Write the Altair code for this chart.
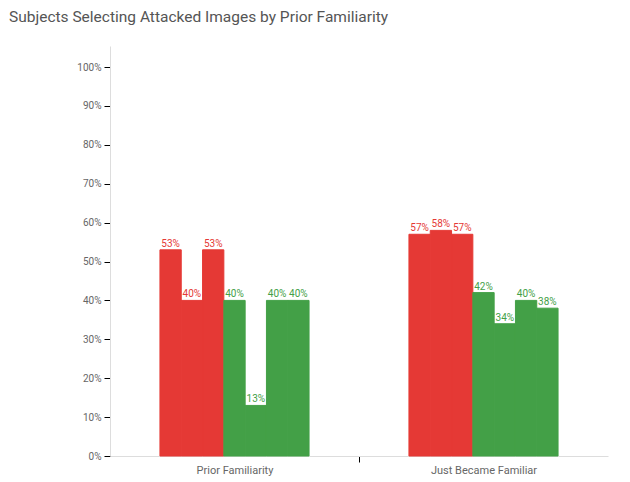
import altair as alt
import pandas as pd

categories = ["Prior Familiarity", "Just Became Familiar"]
series = ["Attacked (red)", "Attacked (green)"]
colors = ["#e53935", "#43a047"]

prior_red = [0.53, 0.40, 0.53]
prior_green = [0.40, 0.13, 0.40, 0.40]
just_red = [0.57, 0.58, 0.57]
just_green = [0.42, 0.34, 0.40, 0.38]

rows = []
for cat, reds, greens in [(categories[0], prior_red, prior_green),
                          (categories[1], just_red, just_green)]:
    slot = 0
    for v in reds:
        rows.append({"category": cat, "series": series[0], "slot": slot, "value": v})
        slot += 1
    for v in greens:
        rows.append({"category": cat, "series": series[1], "slot": slot, "value": v})
        slot += 1
df = pd.DataFrame(rows)

# offset slots, with two empty slots on each side of each group
slot_domain = list(range(-2, 9))

FONT = "Roboto"

x = alt.X(
    "category:N",
    sort=categories,
    title=None,
    scale=alt.Scale(paddingInner=0, paddingOuter=0),
    axis=alt.Axis(
        tickOffset=-124.5,
        labelOffset=124.5,
        labelAngle=0,
        labelFontSize=11,
        labelColor="#666666",
        labelFont=FONT,
        labelPadding=2,
        tickSize=6,
        tickColor=alt.condition("datum.value === 'Prior Familiarity'", alt.value("transparent"), alt.value("#000000")),
        domainColor="#dddddd",
        grid=False,
    ),
)
xo = alt.XOffset("slot:O", scale=alt.Scale(domain=slot_domain, paddingInner=0, paddingOuter=0.345))
y = alt.Y(
    "value:Q",
    title=None,
    scale=alt.Scale(domain=[0, 1.054], nice=False),
    axis=alt.Axis(
        values=[i / 10 for i in range(11)],
        format=".0%",
        labelFontSize=10,
        labelColor="#666666",
        labelFont=FONT,
        labelPadding=3,
        tickSize=6,
        tickColor="#000000",
        domainColor="#dddddd",
        grid=False,
    ),
)
color = alt.Color("series:N", scale=alt.Scale(domain=series, range=colors), legend=None)
stroke = alt.Stroke("series:N", scale=alt.Scale(domain=series, range=colors), legend=None)

bars = alt.Chart(df).mark_bar(strokeWidth=1).encode(x=x, xOffset=xo, y=y, color=color, stroke=stroke)
labels = alt.Chart(df).mark_text(baseline="bottom", dy=-1, fontSize=10, font=FONT).encode(
    x=x, xOffset=xo, y=y, color=color, text=alt.Text("value:Q", format=".0%")
)

chart = alt.layer(bars, labels).properties(
    width=498,
    height=410,
    autosize=alt.AutoSizeParams(type="none"),
    padding={"left": 102, "top": 38, "right": 14, "bottom": 20},
    title=alt.TitleParams(
        "Subjects Selecting Attacked Images by Prior Familiarity",
        anchor="start",
        frame="group",
        dx=-101,
        offset=21,
        fontSize=15.5,
        fontWeight="normal",
        font=FONT,
        color="#555555",
    ),
).configure_view(stroke=None)

chart.save("out.html", embed_options={"renderer": "svg", "actions": False})
